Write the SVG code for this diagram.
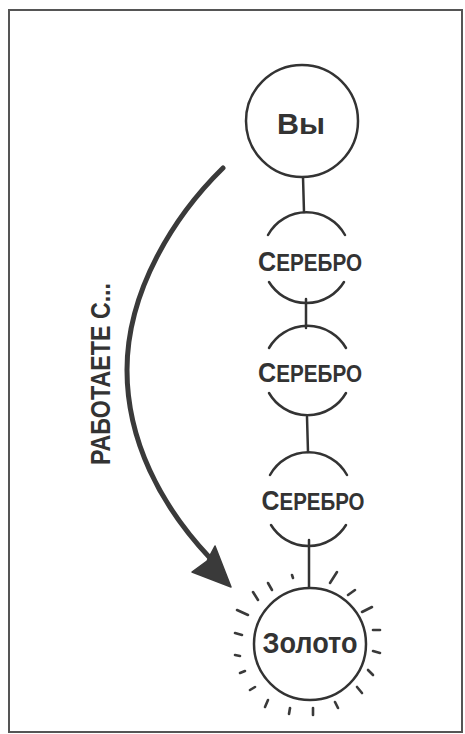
<svg xmlns="http://www.w3.org/2000/svg" width="465" height="734" viewBox="0 0 465 734">
<style>
.ln{fill:none;stroke:#333;stroke-width:2.5;stroke-linecap:round}
.node{fill:#fff;stroke:#333;stroke-width:2.5}
.t{font-family:"Liberation Sans",Arial,sans-serif;font-weight:bold;fill:#333;text-anchor:middle}
.ray{stroke:#3a3a3a;stroke-width:2.6;stroke-linecap:round}
</style>
<rect x="9" y="10" width="453" height="722" fill="#fff" stroke="#555" stroke-width="2"/>
<g id="connectors">
<line class="ln" x1="303" y1="177" x2="304" y2="212"/>
<line class="ln" x1="306" y1="299" x2="306" y2="328"/>
<line class="ln" x1="307" y1="417" x2="308" y2="452"/>
<line class="ln" x1="309" y1="540" x2="309" y2="588"/>
<path d="M223,168 C175,215 127,290 127,370 C127,440 160,505 210,558" fill="none" stroke="#3a3a3a" stroke-width="5" stroke-linecap="round"/>
<polygon points="231,587 192,572 207,561 215,546" fill="#3a3a3a" stroke="#3a3a3a" stroke-width="1.5" stroke-linejoin="round"/>
<text class="t" transform="translate(110,374) rotate(-90)" font-size="28" textLength="182" lengthAdjust="spacingAndGlyphs">РАБОТАЕТЕ С...</text>
</g>
<g id="you">
<circle class="node" cx="302" cy="121" r="56"/>
<text class="t" x="301" y="134" font-size="30" textLength="48" lengthAdjust="spacingAndGlyphs">Вы</text>
</g>
<g id="silver1">
<path class="ln" d="M268,235 A44,44 0 0 1 345,235"/>
<path class="ln" d="M269,282 A44,44 0 0 0 344,282"/>
<text class="t" x="310" y="271" font-size="23" textLength="104" lengthAdjust="spacingAndGlyphs"><tspan font-size="28">С</tspan>ЕРЕБРО</text>
</g>
<g id="silver2">
<path class="ln" d="M269,348 A44.5,44.5 0 0 1 346,348"/>
<path class="ln" d="M269,393 A44.5,44.5 0 0 0 346,393"/>
<text class="t" x="310" y="382" font-size="23" textLength="104" lengthAdjust="spacingAndGlyphs"><tspan font-size="28">С</tspan>ЕРЕБРО</text>
</g>
<g id="silver3">
<path class="ln" d="M270,475 A44,44 0 0 1 347,475"/>
<path class="ln" d="M271,525 A44,44 0 0 0 346,525"/>
<text class="t" x="313" y="510" font-size="23" textLength="103" lengthAdjust="spacingAndGlyphs"><tspan font-size="28">С</tspan>ЕРЕБРО</text>
</g>
<g id="gold">
<circle class="node" cx="310" cy="644" r="56"/>
<text class="t" x="310" y="653" font-size="30" textLength="95" lengthAdjust="spacingAndGlyphs">Золото</text>
<g class="rays">
<line class="ray" x1="292" y1="575" x2="293" y2="578"/>
<line class="ray" x1="330" y1="583" x2="337" y2="572"/>
<line class="ray" x1="268" y1="583" x2="272" y2="590"/>
<line class="ray" x1="253" y1="592" x2="258" y2="600"/>
<line class="ray" x1="348" y1="595" x2="355" y2="590"/>
<line class="ray" x1="237" y1="610" x2="248" y2="615"/>
<line class="ray" x1="362" y1="612" x2="372" y2="607"/>
<line class="ray" x1="235" y1="633" x2="242" y2="635"/>
<line class="ray" x1="373" y1="630" x2="380" y2="630"/>
<line class="ray" x1="235" y1="655" x2="240" y2="656"/>
<line class="ray" x1="373" y1="651" x2="380" y2="653"/>
<line class="ray" x1="240" y1="673" x2="245" y2="671"/>
<line class="ray" x1="368" y1="670" x2="373" y2="675"/>
<line class="ray" x1="250" y1="690" x2="255" y2="687"/>
<line class="ray" x1="357" y1="687" x2="362" y2="693"/>
<line class="ray" x1="265" y1="707" x2="268" y2="700"/>
<line class="ray" x1="335" y1="702" x2="338" y2="708"/>
<line class="ray" x1="289" y1="714" x2="290" y2="708"/>
<line class="ray" x1="313" y1="715" x2="313" y2="708"/>
</g>
</g>
</svg>
